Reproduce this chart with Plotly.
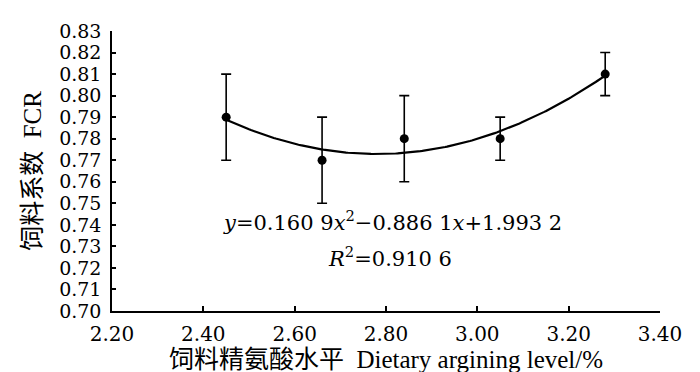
import numpy as np
import plotly.graph_objects as go

# Data
arginine_level = [2.45, 2.66, 2.84, 3.05, 3.28]
fcr_mean = [0.79, 0.77, 0.78, 0.78, 0.81]
fcr_err = [0.02, 0.02, 0.02, 0.01, 0.01]

x_ticks = [2.20, 2.40, 2.60, 2.80, 3.00, 3.20, 3.40]
y_ticks = [0.70, 0.71, 0.72, 0.73, 0.74, 0.75, 0.76, 0.77, 0.78, 0.79, 0.80, 0.81, 0.82, 0.83]

equation_text = "<i>y</i>=0.160 9<i>x</i><sup>2</sup>−0.886 1<i>x</i>+1.993 2"
r2_text = "<i>R</i><sup>2</sup>=0.910 6"

TICKFONT = "DejaVu Serif"
TFONT = "Liberation Serif, Noto Sans CJK SC, serif"

# Quadratic trend line fitted to the plotted points
coef = np.polyfit(arginine_level, fcr_mean, 2)
xs = np.linspace(min(arginine_level), max(arginine_level), 200)
ys = np.polyval(coef, xs)

L, R, T, B = 104, 48, 16, 69
W, H = 700, 372
pw, ph = W - L - R, H - T - B

def px_to_paper(px, py):
    return (px - L) / pw, 1 - (py - T) / ph

fig = go.Figure()
fig.add_trace(go.Scatter(
    x=xs, y=ys, mode="lines",
    line=dict(color="black", width=2.2),
    hoverinfo="skip", showlegend=False,
))
fig.add_trace(go.Scatter(
    x=arginine_level, y=fcr_mean, mode="markers",
    marker=dict(color="black", size=9),
    error_y=dict(type="data", array=fcr_err, visible=True,
                 color="black", thickness=1.6, width=5),
    showlegend=False,
))

ex, ey = px_to_paper(384, 227)
rx, ry = px_to_paper(382, 264)
fig.add_annotation(x=ex, y=ey, xref="paper", yref="paper", text=equation_text,
                   showarrow=False, font=dict(family="DejaVu Serif", size=21, color="black"))
fig.add_annotation(x=rx, y=ry, xref="paper", yref="paper", text=r2_text,
                   showarrow=False, font=dict(family="DejaVu Serif", size=21, color="black"))

fig.update_layout(
    width=W, height=H,
    margin=dict(l=L, r=R, t=T, b=B, pad=0),
    paper_bgcolor="white", plot_bgcolor="white",
    font=dict(family=TFONT, size=20, color="black"),
    showlegend=False,
)
fig.update_xaxes(
    range=[2.20, 3.40], tickvals=x_ticks,
    ticktext=[f"{v:.2f}" for v in x_ticks],
    showline=True, linecolor="black", linewidth=1.5,
    ticks="inside", ticklen=5, tickwidth=1.5, tickcolor="black",
    showgrid=False, zeroline=False,
    tickfont=dict(family=TICKFONT, size=20, color="black"),
    ticklabelstandoff=4,
    title=dict(text="饲料精氨酸水平  Dietary argining level/%",
               font=dict(family=TFONT, size=25, color="black"), standoff=0),
)
fig.update_yaxes(
    range=[0.70, 0.83], tickvals=y_ticks,
    ticktext=[f"{v:.2f}" for v in y_ticks],
    showline=True, linecolor="black", linewidth=1.5,
    ticks="inside", ticklen=4, tickwidth=1.5, tickcolor="black",
    showgrid=False, zeroline=False,
    tickfont=dict(family=TICKFONT, size=19, color="black"),
    ticklabelstandoff=5,
    title=dict(text="饲料系数  FCR", font=dict(family=TFONT, size=25, color="black"), standoff=10),
)

fig.write_html("out.html")
